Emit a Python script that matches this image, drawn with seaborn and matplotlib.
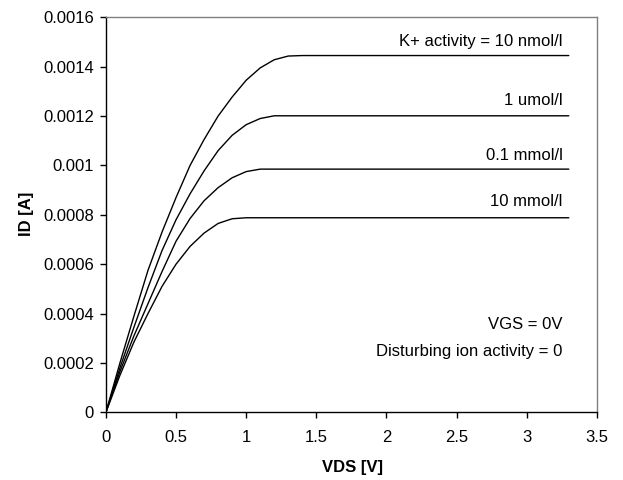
import pandas as pd
import matplotlib.pyplot as plt
import seaborn as sns

sns.set_style("white", rc={"text.color": "black", "axes.labelcolor": "black",
                           "xtick.color": "black", "ytick.color": "black"})
plt.rcParams['font.family'] = ['Liberation Sans', 'DejaVu Sans']

# (ID in mA, converted to A below)
vds = [0, 0.1, 0.2, 0.3, 0.4, 0.5, 0.6, 0.7, 0.8, 0.9, 1.0, 1.1, 1.2, 1.3, 1.4, 3.3]
id_10nmol = [0, 0.20, 0.39, 0.575, 0.73, 0.87, 1.0, 1.105, 1.20, 1.277, 1.345, 1.395, 1.428, 1.443, 1.445, 1.445]
id_1umol = [0, 0.18, 0.345, 0.505, 0.655, 0.78, 0.885, 0.978, 1.06, 1.122, 1.165, 1.19, 1.201, 1.201, 1.201, 1.201]
id_01mmol = [0, 0.165, 0.31, 0.44, 0.57, 0.693, 0.785, 0.857, 0.91, 0.95, 0.975, 0.985, 0.985, 0.985, 0.985, 0.985]
id_10mmol = [0, 0.15, 0.285, 0.40, 0.51, 0.60, 0.672, 0.726, 0.765, 0.784, 0.788, 0.788, 0.788, 0.788, 0.788, 0.788]

labels = ["K+ activity = 10 nmol/l", "1 umol/l", "0.1 mmol/l", "10 mmol/l"]
series = [id_10nmol, id_1umol, id_01mmol, id_10mmol]

df = pd.concat([pd.DataFrame({"VDS": vds, "ID": [v * 1e-3 for v in s], "curve": lab})
                for lab, s in zip(labels, series)])

fig, ax = plt.subplots(figsize=(6.23, 4.8), dpi=100)
fig.subplots_adjust(left=0.170, right=0.958, bottom=0.141, top=0.964)

sns.lineplot(data=df, x="VDS", y="ID", hue="curve", palette=["black"] * 4,
             legend=False, linewidth=1.0, ax=ax)

ax.set_xlim(0, 3.5)
ax.set_ylim(0, 0.0016)
ax.set_xticks([0, 0.5, 1, 1.5, 2, 2.5, 3, 3.5])
ax.set_xticklabels(["0", "0.5", "1", "1.5", "2", "2.5", "3", "3.5"])
ax.set_yticks([0, 0.0002, 0.0004, 0.0006, 0.0008, 0.001, 0.0012, 0.0014, 0.0016])
ax.set_yticklabels(["0", "0.0002", "0.0004", "0.0006", "0.0008", "0.001", "0.0012", "0.0014", "0.0016"])
ax.tick_params(axis="both", direction="out", length=4.5, width=1, labelsize=12,
               colors="black", bottom=True, left=True)
ax.tick_params(axis="x", pad=8.5)
ax.tick_params(axis="y", pad=4)

for side in ["left", "bottom"]:
    ax.spines[side].set_color("black")
    ax.spines[side].set_linewidth(1)
for side in ["top", "right"]:
    ax.spines[side].set_color("#808080")
    ax.spines[side].set_linewidth(1)

ax.set_xlabel("VDS [V]", fontsize=12, fontweight="bold")
ax.set_ylabel("ID [A]", fontsize=12, fontweight="bold")
ax.xaxis.set_label_coords(0.502, -0.121)
ax.yaxis.set_label_coords(-0.147, 0.502)

# curve labels
label_y = [0.001501, 0.001262, 0.001042, 0.000853]
for lab, y in zip(labels, label_y):
    ax.text(3.257, y, lab, ha="right", va="center", fontsize=12)

ax.text(3.257, 0.000354, "VGS = 0V", ha="right", va="center", fontsize=12)
ax.text(3.257, 0.000245, "Disturbing ion activity = 0", ha="right", va="center", fontsize=12)

fig.savefig("out.png", dpi=100)
plt.close()
